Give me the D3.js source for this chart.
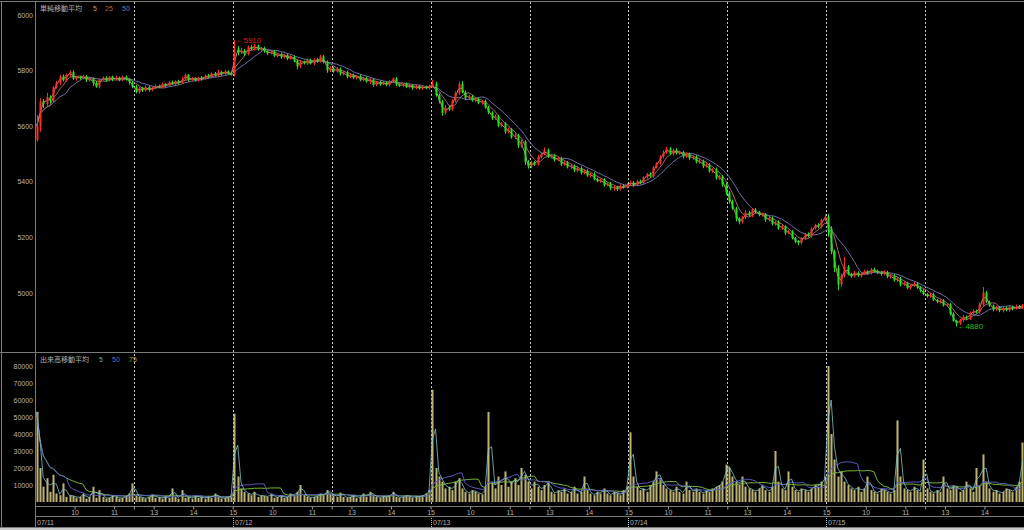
<!DOCTYPE html>
<html><head><meta charset="utf-8">
<script src="https://cdn.jsdelivr.net/npm/d3@7"></script>
<style>html,body{margin:0;padding:0;background:#000;overflow:hidden}</style>
</head><body><svg id="c" width="1024" height="530"></svg>
<script>
// ---------- data ----------
const days = ["07/11","07/12","07/13","07/14","07/15"];
const timeTickLabels = ["10","11","13","14","15"];
const timeTickMinutes = [60,120,180,240,300];   // trading minutes from 9:00 (lunch removed)
const lunchMinute = 150;
const priceTicks = [5000,5200,5400,5600,5800,6000];
const volumeTicks = [10000,20000,30000,40000,50000,60000,70000,80000];
const priceMALabels = ["5","25","50"];
const volumeMALabels = ["5","50","75"];
const firstOpen = 5550;

const close1 = [5600,5690,5680,5705,5690,5740,5755,5780,5765,5785,
5795,5770,5778,5772,5780,5765,5772,5755,5742,5768,
5775,5765,5778,5768,5775,5766,5778,5770,5758,5742,
5722,5738,5728,5742,5730,5738,5745,5740,5752,5746,
5758,5752,5762,5756,5768,5785,5766,5772,5765,5775,
5770,5782,5778,5790,5782,5795,5788,5798,5790,5785];
const close2 = [5880,5865,5872,5860,5885,5878,5890,5876,5880,5870,
5862,5868,5852,5860,5848,5856,5842,5850,5836,5815,
5832,5826,5838,5825,5840,5832,5852,5832,5800,5810,
5796,5808,5788,5794,5776,5785,5774,5780,5766,5772,
5760,5768,5748,5760,5750,5758,5748,5760,5772,5750,
5745,5752,5740,5748,5736,5744,5735,5742,5736,5745];
const close3 = [5752,5712,5690,5648,5668,5660,5692,5718,5752,5722,
5700,5708,5692,5698,5684,5690,5668,5650,5628,5636,
5602,5610,5580,5590,5560,5568,5530,5545,5470,5455,
5470,5462,5490,5500,5515,5490,5495,5478,5484,5462,
5470,5452,5458,5440,5450,5432,5440,5422,5428,5410,
5402,5408,5388,5394,5376,5382,5372,5386,5380,5392];
const close4 = [5398,5388,5402,5396,5415,5428,5420,5452,5466,5490,
5505,5520,5500,5515,5502,5508,5490,5500,5484,5490,
5470,5476,5455,5462,5438,5445,5412,5420,5390,5362,
5330,5305,5268,5255,5272,5290,5278,5300,5292,5280,
5284,5262,5270,5248,5255,5232,5240,5215,5222,5198,
5185,5180,5196,5212,5205,5232,5245,5238,5262,5275];
const close5 = [5232,5150,5090,5030,5062,5095,5068,5060,5072,5062,
5070,5078,5072,5085,5080,5074,5068,5076,5058,5062,
5045,5052,5030,5036,5018,5026,5034,5020,5008,4996,
4988,4995,4975,4968,4972,4955,4960,4925,4900,4890,
4902,4915,4908,4928,4935,4930,4958,5002,4968,4955,
4940,4948,4936,4946,4938,4950,4944,4952,4948,4956];

const wickUp1 = [40,10,8,15,6,5,8,5,6,4,5,6,4,3,5,4,6,3,8,3,4,5,3,4,6,3,4,5,3,4,6,4,3,5,4,3,6,4,5,3,4,6,3,5,10,4,3,5,4,3,5,4,6,3,5,8,4,5,3,4];
const wickDn1 = [5,20,15,10,8,6,5,7,4,5,8,4,6,5,4,6,5,10,4,6,3,5,4,6,3,5,4,6,8,5,4,6,5,3,6,4,5,3,4,6,5,3,4,6,4,5,6,3,5,4,6,3,4,5,3,4,6,4,5,3];
const wickUp2 = [30,8,10,6,5,8,6,4,5,6,4,5,6,3,5,4,6,5,4,3,5,4,6,5,4,6,5,4,5,6,4,5,3,4,6,5,4,3,5,4,6,4,5,3,4,5,4,6,3,5,4,3,5,4,3,5,4,3,4,5];
const wickDn2 = [5,10,6,8,5,4,6,5,4,6,5,4,3,5,6,4,5,3,6,10,5,4,6,3,5,4,3,6,8,5,4,3,6,5,4,3,5,6,4,5,3,8,6,4,5,3,4,5,3,6,4,5,3,4,5,3,4,5,3,4];
const wickUp3 = [15,8,6,5,8,6,5,7,8,10,6,5,4,6,5,4,6,5,4,6,5,4,6,5,4,7,5,6,5,8,6,5,7,6,8,5,6,4,5,6,4,5,6,4,5,6,4,5,4,6,5,4,5,4,6,5,4,5,6,4];
const wickDn3 = [5,6,8,10,6,5,4,6,5,4,6,5,4,6,5,6,5,7,6,5,6,5,7,6,5,6,8,7,10,8,6,5,4,6,5,4,6,5,4,6,5,4,6,5,4,6,5,4,6,5,4,6,5,4,6,8,5,4,5,4];
const wickUp4 = [6,5,4,6,5,4,6,5,4,6,8,6,5,4,6,5,4,6,5,4,6,5,4,6,5,4,6,5,4,6,5,6,5,4,6,8,6,5,6,4,5,4,6,5,4,6,5,4,6,5,4,6,5,4,6,5,4,6,5,8];
const wickDn4 = [5,6,4,5,6,4,5,6,4,5,6,4,5,6,4,5,6,4,5,6,4,5,6,4,5,6,4,5,8,10,8,6,10,8,5,6,4,5,6,4,5,6,4,5,6,4,5,6,4,5,6,8,5,4,5,6,4,5,6,4];
const wickUp5 = [10,8,6,10,8,35,6,5,8,6,5,6,4,5,6,4,5,6,4,5,6,4,5,6,4,5,6,4,5,6,4,5,6,4,5,6,4,5,6,4,5,6,4,5,6,5,8,20,6,5,4,6,5,4,6,5,4,6,5,4];
const wickDn5 = [30,10,15,20,8,6,5,6,4,5,6,4,5,6,4,5,6,4,5,6,4,5,6,4,5,6,4,5,6,4,5,6,4,5,6,4,5,6,4,10,5,6,4,5,6,4,5,6,4,5,6,4,5,6,4,5,6,4,5,6];

const vol1 = [53000,20000,9000,14000,6000,16000,5000,4000,11000,3000,4000,3500,2500,3000,5000,2000,3000,9000,2500,7000,3000,2000,2500,4000,3000,2000,2500,3500,5000,11000,4000,3000,2500,2000,3000,4500,2500,3000,2000,3500,2500,8000,3000,2000,7000,2500,3000,2000,4000,2500,3000,2000,3500,2500,5000,3000,2000,2500,3000,4000];
const vol2 = [52000,15000,8000,6000,5000,4000,6000,3000,4000,3500,3000,5000,2500,3000,4000,2500,3000,5000,4000,6000,10000,4000,3000,2500,3000,3500,5000,4000,7000,5000,4000,3000,5500,3000,2500,3000,4000,2500,3000,5000,3000,6000,4000,3000,2500,3500,3000,4000,6000,3000,2500,3000,4000,3000,2500,3500,3000,4000,5000,7000];
const vol3 = [66000,20000,15000,12000,8000,9000,7000,12000,14000,8000,6000,5000,7000,6000,5000,4500,9000,53000,12000,8000,15000,10000,18000,9000,12000,14000,10000,20000,16000,12000,8000,12000,9000,7000,10000,12000,6000,5000,7000,6000,8000,5000,6000,9000,5000,6000,15000,7000,5000,4000,6000,5000,8000,5000,4000,6000,5000,4000,7000,9000];
const vol4 = [41000,15000,9000,7000,8000,6000,10000,12000,18000,14000,10000,8000,7000,6000,9000,6000,5000,12000,7000,6000,8000,6000,5000,7000,6000,8000,9000,10000,12000,22000,20000,15000,12000,10000,15000,9000,8000,7000,6000,8000,10000,7000,6000,9000,30000,12000,8000,7000,18000,9000,7000,6000,8000,7000,6000,8000,10000,9000,12000,15000];
const vol5 = [80000,40000,25000,15000,18000,12000,10000,8000,7000,9000,6000,8000,15000,7000,6000,5000,8000,7000,6000,5000,7000,48000,15000,8000,7000,6000,9000,7000,6000,25000,8000,6000,5000,7000,6000,15000,8000,7000,10000,9000,6000,7000,12000,8000,6000,20000,10000,28000,12000,8000,6000,7000,5000,6000,8000,7000,6000,9000,12000,35000];

// ---------- build ----------
const BAR = 5, DAY = 300;
const closes = [].concat(close1,close2,close3,close4,close5);
const wUp = [].concat(wickUp1,wickUp2,wickUp3,wickUp4,wickUp5);
const wDn = [].concat(wickDn1,wickDn2,wickDn3,wickDn4,wickDn5);
const vols = [].concat(vol1,vol2,vol3,vol4,vol5);
let prev = firstOpen;
const bars = closes.map((c,k)=>{const o=prev; prev=c;
  return {k, m:k*BAR+BAR/2, o, c, h:Math.max(o,c)+wUp[k], l:Math.min(o,c)-wDn[k], v:vols[k]};});

function sma(vals, n){ return vals.map((_,i)=>{const s=Math.max(0,i-n+1); return d3.mean(vals.slice(s,i+1));}); }

const svg = d3.select("#c");
const FONT = "'Liberation Sans', Arial, sans-serif";
const CJK = "'Noto Sans CJK JP', sans-serif";
const GRID = "#7a7a7a", TXT = "#b4b4b4";

svg.append("rect").attr("width",1024).attr("height",530).attr("fill","#000");
svg.append("rect").attr("x",0).attr("y",528).attr("width",1024).attr("height",2).attr("fill","#c8c8c8");

const x = d3.scaleLinear().domain([0, DAY*days.length]).range([35, 1024]);
const y = d3.scaleLinear().domain([5000,6000]).range([293,15]);
const yv = d3.scaleLinear().domain([0,80000]).range([502,366]);

const defs = svg.append("defs");
defs.append("clipPath").attr("id","cp").append("rect").attr("x",36).attr("y",2).attr("width",988).attr("height",350);
defs.append("clipPath").attr("id","cv").append("rect").attr("x",36).attr("y",353).attr("width",988).attr("height",153);

// borders
const bl = (x1,y1,x2,y2)=>svg.append("line").attr("x1",x1).attr("y1",y1).attr("x2",x2).attr("y2",y2).attr("stroke",GRID).attr("stroke-width",1);
bl(0,1.5,1024,1.5);
bl(1.5,1,1.5,528);
bl(35.5,1,35.5,528);
bl(0,352.5,1024,352.5);
bl(35,506.5,1024,506.5);
bl(35,516.5,1024,516.5);
bl(0,527.5,1024,527.5);

// dashed session lines
const sepMinutes = [];
days.forEach((d,i)=>{ sepMinutes.push(i*DAY+lunchMinute); if(i>0) sepMinutes.push(i*DAY); });
svg.append("g").selectAll("line").data(sepMinutes).join("line")
  .attr("x1",d=>Math.round(x(d))+0.5).attr("x2",d=>Math.round(x(d))+0.5)
  .attr("y1",2).attr("y2",506).attr("stroke","#c8c8c8").attr("stroke-dasharray","2,2");

// price MAs
const maColors = ["#b89060","#a06a66","#6c70a8"];
const pg = svg.append("g").attr("clip-path","url(#cp)");
const maPer = [5,25,50].map(p=>Math.max(1,Math.round(p/BAR)));
[2,1,0].forEach(j=>{
  const ma = sma(closes, j===0?2:maPer[j]);
  pg.append("path").attr("fill","none").attr("stroke",maColors[j]).attr("stroke-width",1)
    .attr("d", d3.line().x((d,i)=>x(bars[i].m)).y(d=>y(d))(ma));
});
// candles
const up="#ff2a2a", dn="#22e022";
const cg = pg.append("g");
cg.selectAll("line").data(bars).join("line")
  .attr("x1",d=>Math.round(x(d.m))+0.5).attr("x2",d=>Math.round(x(d.m))+0.5)
  .attr("y1",d=>y(d.h)).attr("y2",d=>y(d.l))
  .attr("stroke",d=>d.c>=d.o?up:dn);
cg.selectAll("rect").data(bars).join("rect")
  .attr("x",d=>Math.round(x(d.m))-0.5).attr("width",2)
  .attr("y",d=>y(Math.max(d.o,d.c))).attr("height",d=>Math.max(1,Math.abs(y(d.o)-y(d.c))))
  .attr("fill",d=>d.c>=d.o?up:dn);

// high / low markers
const hiBar = bars.reduce((a,b)=>b.h>a.h?b:a);
const loBar = bars.reduce((a,b)=>b.l<a.l?b:a);
svg.append("text").attr("x",x(hiBar.m)+1).attr("y",y(hiBar.h)+3).attr("fill","#e02020")
  .attr("font-family",FONT).attr("font-size",8).text("\u2190"+hiBar.h);
svg.append("text").attr("x",x(loBar.m)+1).attr("y",y(loBar.l)+3).attr("fill","#20c020")
  .attr("font-family",FONT).attr("font-size",8).text("\u2190"+loBar.l);

// price axis labels
svg.append("g").selectAll("text").data(priceTicks).join("text")
  .attr("x",33).attr("y",d=>y(d)+2.5).attr("text-anchor","end").attr("fill",TXT)
  .attr("font-family",FONT).attr("font-size",7).text(d=>d);

// legends
function legend(yb, title, labels, colors, xs){
  svg.append("text").attr("x",40).attr("y",yb).attr("fill",TXT).attr("font-family",CJK).attr("font-size",7).text(title);
  labels.forEach((t,i)=>svg.append("text").attr("x",xs[i]).attr("y",yb).attr("fill",colors[i]).attr("font-family",FONT).attr("font-size",7).text(t));
}
legend(11, "単純移動平均", priceMALabels, ["#c0a070","#a86a66","#6c7cac"], [93,105,122]);

// volume
const vg = svg.append("g").attr("clip-path","url(#cv)");
vg.selectAll("rect").data(bars).join("rect")
  .attr("x",d=>Math.round(x(d.m))-0.5).attr("width",2)
  .attr("y",d=>yv(d.v)).attr("height",d=>yv(0)-yv(d.v)).attr("fill","#bcb476");
const vmaColors = ["#80c4cc","#5858c0","#78b438"];
const vPer = [5,50,75].map(p=>Math.max(1,Math.round(p/BAR)));
[2,1,0].forEach(j=>{
  const ma = sma(vols, j===0?2:vPer[j]);
  vg.append("path").attr("fill","none").attr("stroke",vmaColors[j]).attr("stroke-width",j===0?0.8:1)
    .attr("d", d3.line().x((d,i)=>x(bars[i].m)).y(d=>yv(d))(ma));
});
svg.append("g").selectAll("text").data(volumeTicks).join("text")
  .attr("x",33).attr("y",d=>yv(d)+2.5).attr("text-anchor","end").attr("fill",TXT)
  .attr("font-family",FONT).attr("font-size",7).text(d=>d);
legend(362, "出来高移動平均", volumeMALabels, ["#58b8b8","#6a6ac0","#a0b040"], [99,112,129]);

// time axis
const tickData = [];
days.forEach((d,i)=>{
  timeTickMinutes.forEach((m,j)=>{ const mm=i*DAY+m; if(mm<DAY*days.length) tickData.push({m:mm,label:timeTickLabels[j]}); });
  tickData.push({m:i*DAY+lunchMinute,label:""});
});
const xa = d3.axisBottom(x).tickValues(tickData.map(d=>d.m))
  .tickFormat(v=>tickData.find(t=>t.m===v).label).tickSize(3).tickPadding(1);
const gx = svg.append("g").attr("transform","translate(0,506.5)").call(xa);
gx.select(".domain").remove();
gx.selectAll("line").attr("stroke","#9a9a9a");
gx.selectAll("text").attr("fill",TXT).attr("font-family",FONT).attr("font-size",7);

// date row
days.forEach((d,i)=>{
  const xx = Math.round(x(i*DAY))+0.5;
  if(i>0) svg.append("line").attr("x1",xx).attr("x2",xx).attr("y1",518).attr("y2",527).attr("stroke","#bbb").attr("stroke-dasharray","1,1");
  svg.append("text").attr("x",xx+1.5).attr("y",525).attr("fill",TXT).attr("font-family",FONT).attr("font-size",7).text(d);
});
</script></body></html>
